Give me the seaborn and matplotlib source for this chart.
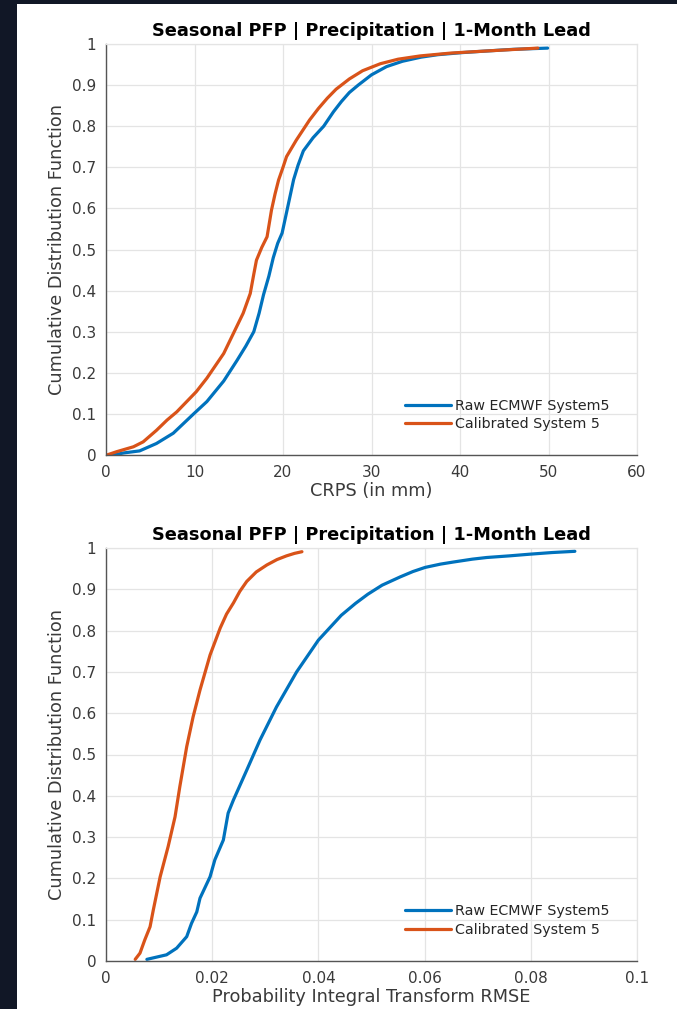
import matplotlib
matplotlib.use("Agg")
import matplotlib.pyplot as plt
import matplotlib.patches as mpatches
import pandas as pd
import seaborn as sns

# ---- CRPS CDF curves (value, cumulative probability) ----
crps_raw_x = [0.8, 2.0, 3.8, 5.7, 7.6, 9.9, 11.4, 13.3, 14.8, 15.8, 16.7, 17.3, 17.8,
              18.4, 18.9, 19.4, 19.9, 20.3, 20.7, 21.2, 21.7, 22.3, 23.4, 24.6, 25.7,
              26.6, 27.5, 28.5, 30.0, 31.7, 33.5, 35.6, 37.5, 40.2, 43.0, 46.0, 49.9]
crps_raw_y = [0.0, 0.005, 0.01, 0.028, 0.053, 0.10, 0.13, 0.18, 0.23, 0.265, 0.30,
              0.345, 0.39, 0.435, 0.48, 0.515, 0.54, 0.58, 0.62, 0.67, 0.705, 0.74,
              0.772, 0.80, 0.835, 0.860, 0.882, 0.90, 0.925, 0.945, 0.958, 0.968,
              0.974, 0.979, 0.983, 0.987, 0.99]

crps_cal_x = [0.1, 1.2, 3.1, 4.2, 5.7, 6.9, 8.0, 10.2, 11.4, 13.3, 14.4, 15.5, 16.3,
              16.7, 17.0, 17.6, 18.2, 18.7, 19.1, 19.5, 20.0, 20.4, 21.5, 23.0, 24.0,
              25.0, 26.0, 27.5, 29.0, 31.0, 33.0, 35.5, 39.0, 43.0, 48.8]
crps_cal_y = [0.0, 0.008, 0.02, 0.032, 0.06, 0.085, 0.105, 0.154, 0.187, 0.247, 0.296,
              0.345, 0.393, 0.440, 0.474, 0.505, 0.531, 0.596, 0.635, 0.669, 0.700,
              0.726, 0.766, 0.815, 0.843, 0.868, 0.890, 0.915, 0.935, 0.952, 0.963,
              0.971, 0.978, 0.983, 0.99]

# ---- PIT RMSE CDF curves ----
pit_raw_x = [0.0077, 0.0114, 0.0133, 0.0152, 0.0161, 0.0171, 0.0177, 0.0196, 0.0205,
             0.0221, 0.0230, 0.0240, 0.0265, 0.0290, 0.0321, 0.0359, 0.0400, 0.0443,
             0.0470, 0.0493, 0.0520, 0.0554, 0.0578, 0.0601, 0.0630, 0.0654, 0.0690,
             0.0717, 0.0760, 0.0798, 0.0840, 0.0883]
pit_raw_y = [0.004, 0.015, 0.031, 0.059, 0.091, 0.119, 0.152, 0.204, 0.245, 0.293,
             0.358, 0.390, 0.462, 0.535, 0.615, 0.700, 0.777, 0.837, 0.866, 0.888,
             0.910, 0.930, 0.943, 0.953, 0.961, 0.966, 0.973, 0.977, 0.981, 0.985,
             0.989, 0.992]

pit_cal_x = [0.0055, 0.0064, 0.0073, 0.0083, 0.0089, 0.0102, 0.0117, 0.0130, 0.0139,
             0.0152, 0.0164, 0.0177, 0.0196, 0.0215, 0.0227, 0.0240, 0.0252, 0.0265,
             0.0283, 0.0303, 0.0322, 0.0340, 0.0355, 0.0369]
pit_cal_y = [0.004, 0.019, 0.051, 0.083, 0.123, 0.204, 0.277, 0.349, 0.422, 0.519,
             0.591, 0.656, 0.741, 0.806, 0.840, 0.867, 0.895, 0.919, 0.942, 0.959,
             0.972, 0.981, 0.987, 0.991]

series_names = ["Raw ECMWF System5", "Calibrated System 5"]
series_colors = ["#0072BD", "#D95319"]
panel_title = "Seasonal PFP | Precipitation | 1-Month Lead"
y_label = "Cumulative Distribution Function"
x_labels = ["CRPS (in mm)", "Probability Integral Transform RMSE"]
y_ticks = [0, 0.1, 0.2, 0.3, 0.4, 0.5, 0.6, 0.7, 0.8, 0.9, 1]
crps_ticks = [0, 10, 20, 30, 40, 50, 60]
pit_ticks = [0, 0.02, 0.04, 0.06, 0.08, 0.1]


def frame(xa, ya, xb, yb):
    return pd.concat([
        pd.DataFrame({"value": xa, "cdf": ya, "series": series_names[0]}),
        pd.DataFrame({"value": xb, "cdf": yb, "series": series_names[1]}),
    ], ignore_index=True)


def fmt(v):
    return f"{v:g}"


sns.set_style("white")
plt.rcParams["font.family"] = ["DejaVu Sans"]

W, H = 677, 1009
fig = plt.figure(figsize=(W / 100, H / 100), dpi=100)
fig.patch.set_facecolor("#111726")
fig.add_artist(mpatches.Rectangle((17 / W, 0), 1 - 17 / W, 1 - 4 / H,
                                  transform=fig.transFigure, facecolor="white",
                                  edgecolor="none", zorder=0))

ax_left = 106 / W
ax_w = (637 - 106) / W
axes = [
    fig.add_axes([ax_left, 1 - 455 / H, ax_w, (455 - 44) / H]),
    fig.add_axes([ax_left, 1 - 961 / H, ax_w, (961 - 548) / H]),
]

panels = [
    (frame(crps_raw_x, crps_raw_y, crps_cal_x, crps_cal_y), crps_ticks, (0, 60)),
    (frame(pit_raw_x, pit_raw_y, pit_cal_x, pit_cal_y), pit_ticks, (0, 0.1)),
]

text_col = "#3a3a3a"
for ax, (df, xt, xlim), xl in zip(axes, panels, x_labels):
    ax.set_facecolor("white")
    sns.lineplot(data=df, x="value", y="cdf", hue="series", hue_order=series_names,
                 palette=series_colors, sort=False, estimator=None, linewidth=2.3,
                 ax=ax)
    ax.set_xlim(*xlim)
    ax.set_ylim(0, 1)
    ax.set_xticks(xt)
    ax.set_xticklabels([fmt(v) for v in xt])
    ax.set_yticks(y_ticks)
    ax.set_yticklabels([fmt(v) for v in y_ticks])
    ax.grid(True, color="#e4e4e4", linewidth=0.9)
    ax.set_axisbelow(True)
    for side in ("top", "right"):
        ax.spines[side].set_color("#e4e4e4")
        ax.spines[side].set_linewidth(0.9)
    for side in ("left", "bottom"):
        ax.spines[side].set_color("#555555")
        ax.spines[side].set_linewidth(1.0)
    ax.tick_params(axis="both", direction="in", length=5, width=1.0, color="#555555",
                   labelsize=11, labelcolor=text_col, pad=7,
                   top=False, right=False)
    ax.set_title(panel_title, fontsize=12.8, fontweight="bold", color="black", pad=6)
    ax.set_xlabel(xl, fontsize=12.8, color=text_col, labelpad=2)
    ax.set_ylabel(y_label, fontsize=12.8, color=text_col, labelpad=4)
    ax.legend(loc="upper left", bbox_to_anchor=(0.563, 0.137), frameon=False,
              fontsize=10.3, handlelength=3.2, handletextpad=0.3, labelspacing=0.3,
              borderpad=0, borderaxespad=0)

fig.savefig("out.png", dpi=100, facecolor=fig.get_facecolor())
